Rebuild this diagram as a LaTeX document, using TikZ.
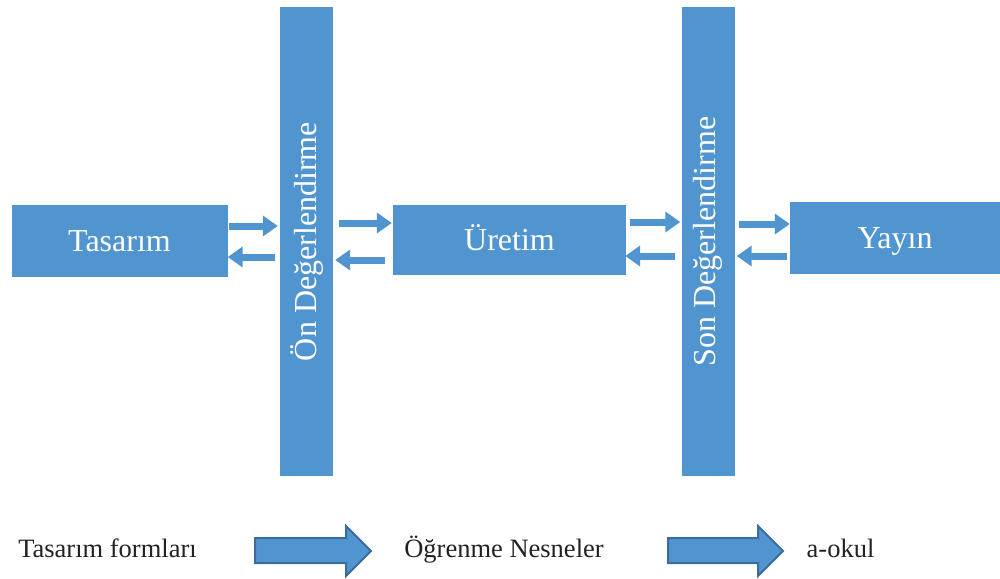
\documentclass[tikz,border=0pt]{standalone}
\usepackage{fontspec}
\setmainfont{Liberation Serif}
\usetikzlibrary{arrows.meta}
\definecolor{boxblue}{RGB}{80,149,208}
\definecolor{arrowedge}{RGB}{58,108,158}
\definecolor{captext}{RGB}{34,34,34}
\begin{document}
\begin{tikzpicture}[x=1pt,y=-1pt,
  stage/.style={fill=boxblue,draw=none,text=white,inner sep=0pt,
    text height=24pt,text depth=3pt,
    font=\fontsize{32}{38}\selectfont},
  gate/.style={fill=boxblue,draw=none,text=white,inner sep=0pt,rotate=90,
    minimum width=469pt,minimum height=53pt,
    font=\fontsize{32}{38}\selectfont},
  flow/.style={draw=boxblue,line width=7pt,
    -{Triangle[length=15pt,width=20pt]}},
  caption/.style={text=captext,inner sep=0pt,anchor=base,
    font=\fontsize{26.5}{32}\selectfont},
  blockarrow/.style={fill=boxblue,draw=arrowedge,line width=2pt,line join=miter}
]
\useasboundingbox (0,0) rectangle (1000,578);

% stage boxes
\node[stage,minimum width=216pt,minimum height=72pt] (tas) at (119.5,240.5) {Tasarım};
\node[stage,minimum width=233pt,minimum height=70pt] (ure) at (509.5,240) {Üretim};
\node[stage,minimum width=210pt,minimum height=72pt] (yay) at (895,237.5) {Yayın};

% evaluation bars
\node[gate] (on) at (306.5,241.5) {Ön Değerlendirme};
\node[gate] (son) at (708,241.5) {Son Değerlendirme};

% forward and backward flows
\coordinate (f1) at (0,226);  \coordinate (b1) at (0,257);
\coordinate (f2) at (0,223);  \coordinate (b2) at (0,260);
\coordinate (f3) at (0,222);  \coordinate (b3) at (0,256);
\coordinate (f4) at (0,224);  \coordinate (b4) at (0,256);

\draw[flow] ([xshift=1pt]tas.east |- f1) -- ([xshift=-2pt]on.north |- f1);
\draw[flow] ([xshift=-5pt]on.north |- b1) -- (tas.east |- b1);
\draw[flow] ([xshift=6pt]on.south |- f2) -- ([xshift=-1pt]ure.west |- f2);
\draw[flow] ([xshift=-8pt]ure.west |- b2) -- ([xshift=2pt]on.south |- b2);
\draw[flow] ([xshift=4pt]ure.east |- f3) -- ([xshift=-1pt]son.north |- f3);
\draw[flow] ([xshift=-6pt]son.north |- b3) -- ([xshift=-1pt]ure.east |- b3);
\draw[flow] ([xshift=4pt]son.south |- f4) -- (yay.west |- f4);
\draw[flow] ([xshift=-3pt]yay.west |- b4) -- ([xshift=2pt]son.south |- b4);

% bottom row
\node[caption] (c1) at (107.5,557) {Tasarım formları};
\node[caption] (c2) at (504,557) {Öğrenme Nesneler};
\node[caption] (c3) at (840.5,557) {a-okul};

\draw[blockarrow] (255,538) -- (346,538) -- (346,526) -- (371,551)
  -- (346,576) -- (346,563) -- (255,563) -- cycle;
\draw[blockarrow] (668,538) -- (758,538) -- (758,526) -- (783,551)
  -- (758,576) -- (758,563) -- (668,563) -- cycle;
\end{tikzpicture}
\end{document}
